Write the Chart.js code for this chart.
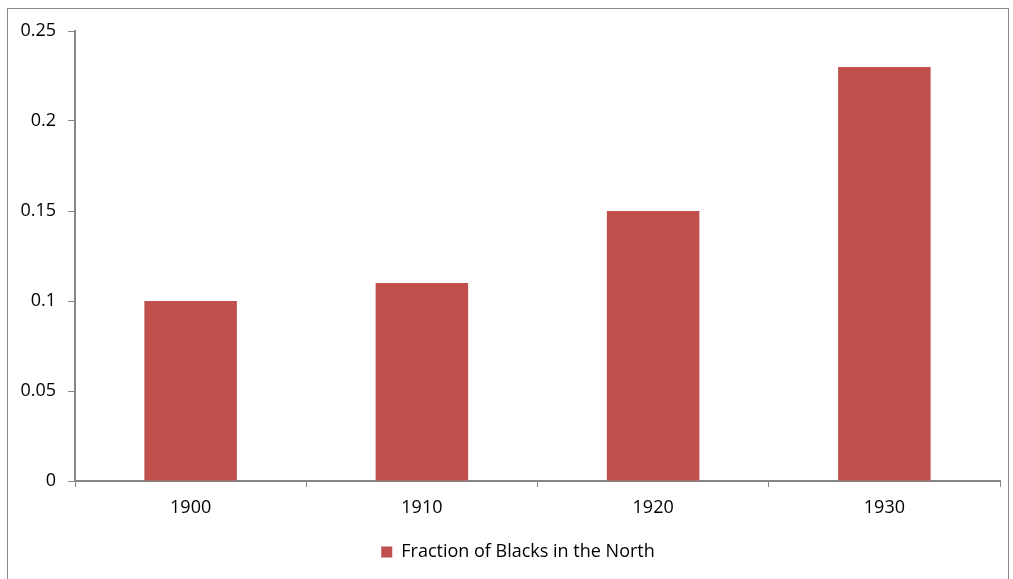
<!DOCTYPE html>
<html>
<head>
<meta charset="utf-8">
<script src="https://cdn.jsdelivr.net/npm/chart.js@4/dist/chart.umd.min.js"></script>
<style>
  html, body { margin: 0; padding: 0; background: #fff; }
  #wrap { width: 1013px; height: 579px; }
</style>
</head>
<body>
<div id="wrap"><canvas id="c" width="1013" height="579"></canvas></div>
<script>
// data
const years = ['1900', '1910', '1920', '1930'];
const fractionNorth = [0.10, 0.11, 0.15, 0.23];
const seriesName = 'Fraction of Blacks in the North';

const axisGray = '#868686';
const barRed = '#C0504D';
const font = { family: '"Open Sans", "Liberation Sans", sans-serif', size: 18 };

// outer chart frame, like the Excel chart border
const frame = {
    id: 'frame',
    beforeDraw(chart) {
        const ctx = chart.ctx;
        ctx.save();
        ctx.fillStyle = '#fff';
        ctx.fillRect(0, 0, chart.width, chart.height);
        ctx.strokeStyle = '#898989';
        ctx.lineWidth = 1;
        ctx.strokeRect(7.5, 8.5, 1001, 620);
        ctx.restore();
    }
};

// the legend sits a bit right of the canvas centre in the original
const legendNudge = {
    id: 'legendNudge',
    afterLayout(chart) {
        const lg = chart.legend;
        lg.left += 18;
        lg.right += 18;
        lg.top += 2;
        lg.bottom += 2;
        lg.legendHitBoxes.forEach(b => { b.left += 18; b.top += 2; });
    }
};

new Chart(document.getElementById('c'), {
    type: 'bar',
    data: {
        labels: years,
        datasets: [{
            label: seriesName,
            data: fractionNorth,
            backgroundColor: barRed,
            borderWidth: 0,
            barPercentage: 0.4,
            categoryPercentage: 1.0
        }]
    },
    options: {
        responsive: false,
        animation: false,
        layout: { padding: { top: 31, right: 13, left: 0, bottom: 10 } },
        plugins: {
            tooltip: { enabled: false },
            legend: {
                position: 'bottom',
                labels: {
                    color: '#000',
                    font: font,
                    boxWidth: 11,
                    boxHeight: 11,
                    padding: 6
                }
            }
        },
        scales: {
            x: {
                grid: {
                    offset: true,
                    drawOnChartArea: false,
                    drawTicks: true,
                    tickLength: 6,
                    color: axisGray
                },
                border: { color: axisGray, width: 2 },
                ticks: { color: '#000', font: font, padding: 10 },
                afterFit(scale) { scale.height = 54; }
            },
            y: {
                min: 0,
                max: 0.25,
                ticks: {
                    stepSize: 0.05,
                    color: '#000',
                    font: font,
                    padding: 12,
                    callback: v => String(Math.round(v * 100) / 100)
                },
                grid: {
                    drawOnChartArea: false,
                    drawTicks: true,
                    tickLength: 7,
                    color: axisGray
                },
                border: { color: axisGray, width: 2 },
                afterFit(scale) { scale.width = 75; }
            }
        }
    },
    plugins: [frame, legendNudge]
});
</script>
</body>
</html>
